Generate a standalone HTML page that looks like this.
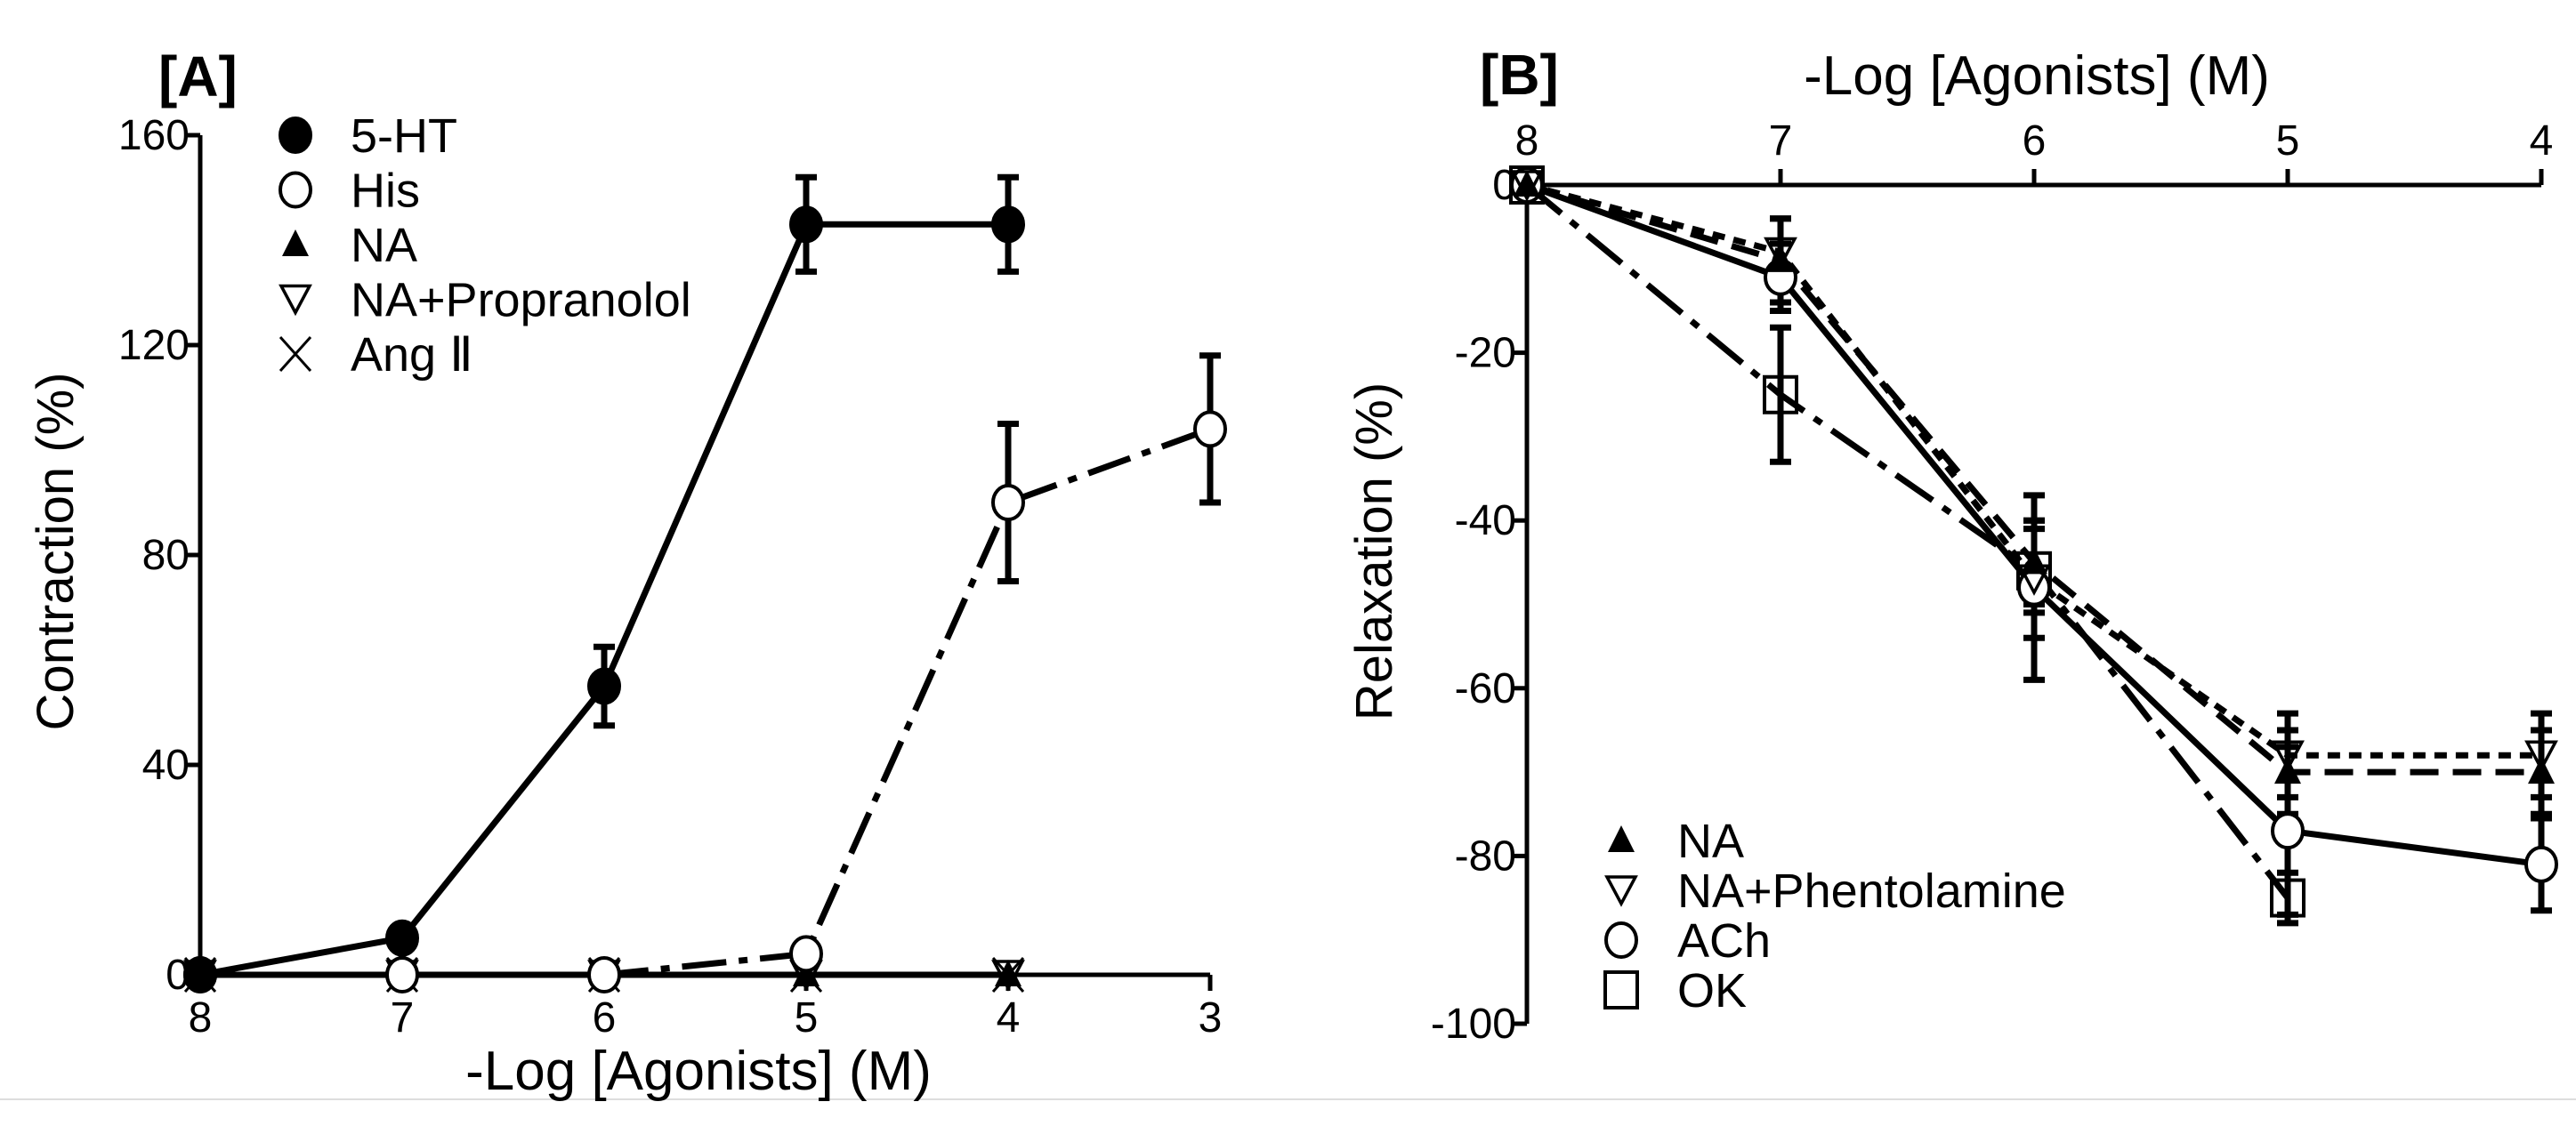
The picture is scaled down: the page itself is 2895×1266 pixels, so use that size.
<!DOCTYPE html>
<html><head><meta charset="utf-8">
<style>
html,body{margin:0;padding:0;background:#fff;}
svg{display:block;font-family:"Liberation Sans",sans-serif;}
</style></head>
<body>
<svg id="chart" width="2895" height="1266" viewBox="0 0 2895 1266" xmlns="http://www.w3.org/2000/svg">
<line x1="0" y1="1236" x2="2895" y2="1236" stroke="#ddd" stroke-width="2"/>
<g id="pa"></g>
<g id="pb"></g>
</svg>
<script>
const NS="http://www.w3.org/2000/svg";
// Panel A data
const aXTicks=[8,7,6,5,4,3];
const aYTicks=[0,40,80,120,160];
const aX=[8,7,6,5,4,3];
const aHT=[0,7,55,143,143];
const aHTErr=[0,0,7.5,9,9];
const aHis=[0,0,0,4,90,104];
const aHisErr=[0,0,0,0,15,14];
const aNA=[0,0,0,0,0];
const aNAProp=[0,0,0,0,0];
const aAng=[0,0,0,0,0];
// Panel B data
const bXTicks=[8,7,6,5,4];
const bYTicks=[0,-20,-40,-60,-80,-100];
const bX=[8,7,6,5,4];
const bNA=[0,-9,-45,-70,-70];
const bNAErr=[0,5,5,5,5];
const bNAPh=[0,-8,-47,-68,-68];
const bNAPhErr=[0,4,7,5,5];
const bACh=[0,-11,-48,-77,-81];
const bAChErr=[0,4,11,10,5.5];
const bOK=[0,-25,-46,-85,null];
const bOKErr=[0,8,5,3,0];

function el(tag,attrs,parent,txt){const e=document.createElementNS(NS,tag);for(const k in attrs)e.setAttribute(k,attrs[k]);if(txt!==undefined)e.textContent=txt;parent.appendChild(e);return e;}

const axA={x0:225,x1:1360,v0:8,v1:3,y0:1096,y1:152,w0:0,w1:160};
const axB={x0:1716,x1:2856,v0:8,v1:4,y0:208,y1:1151,w0:0,w1:-100};
const sx=(a,v)=>a.x0+(v-a.v0)/(a.v1-a.v0)*(a.x1-a.x0);
const sy=(a,v)=>a.y0+(v-a.w0)/(a.w1-a.w0)*(a.y1-a.y0);

function marker(g,type,x,y,name){
  const r=17;let m;
  if(type==='fc'||type==='oc'){m=el('ellipse',{cx:x,cy:y,rx:r,ry:r+2,fill:type==='fc'?'#000':'#fff',stroke:'#000','stroke-width':4},g);}
  else if(type==='ft'){m=el('polygon',{points:`${x},${y-17} ${x-15},${y+13} ${x+15},${y+13}`,fill:'#000'},g);}
  else if(type==='it'){m=el('polygon',{points:`${x-16},${y-15} ${x+16},${y-15} ${x},${y+15}`,fill:'none',stroke:'#000','stroke-width':3.5},g);}
  else if(type==='x'){m=el('path',{d:`M${x-17},${y-19}L${x+17},${y+19}M${x+17},${y-19}L${x-17},${y+19}`,stroke:'#000','stroke-width':3,fill:'none'},g);}
  else if(type==='sq'){m=el('rect',{x:x-18,y:y-20,width:36,height:40,fill:'none',stroke:'#000','stroke-width':4},g);}
  
  
  return m;
}
function errbar(g,a,xv,v,e,name){
  if(!e)return;const x=sx(a,xv);
  const p=el('path',{d:`M${x},${sy(a,v+e)}V${sy(a,v-e)}M${x-12},${sy(a,v+e)}H${x+12}M${x-12},${sy(a,v-e)}H${x+12}`,stroke:'#000','stroke-width':7,fill:'none'},g);
  
  
}
function line(g,a,xs,ys,dash,name,start){
  let d='';let first=true;
  for(let i=start||0;i<ys.length;i++){if(ys[i]==null)continue;d+=(first?'M':'L')+sx(a,xs[i])+','+sy(a,ys[i]);first=false;}
  const p=el('path',{d:d,stroke:'#000','stroke-width':7,fill:'none','stroke-dasharray':dash||'none'},g);
  
  
}

// ---- Panel A ----
const A=document.getElementById('pa');
let t=el('text',{x:178,y:108,'font-size':64,'font-weight':'bold'},A,'[A]');

let ax=el('path',{d:`M${axA.x0},${axA.y1}V${axA.y0}H${axA.x1}`,stroke:'#000','stroke-width':5,fill:'none'},A);

aYTicks.forEach(v=>{const y=sy(axA,v);
  el('line',{x1:axA.x0-16,x2:axA.x0,y1:y,y2:y,stroke:'#000','stroke-width':5},A);
  const tt=el('text',{x:axA.x0-12,y:y+16,'font-size':48,'text-anchor':'end'},A,String(v));
  });
aXTicks.forEach(v=>{const x=sx(axA,v);
  el('line',{x1:x,x2:x,y1:axA.y0,y2:axA.y0+18,stroke:'#000','stroke-width':5},A);
  const tt=el('text',{x:x,y:axA.y0+64,'font-size':48,'text-anchor':'middle'},A,String(v));
  });
t=el('text',{x:785,y:1225,'font-size':62,'text-anchor':'middle'},A,'-Log [Agonists] (M)');

t=el('text',{x:0,y:0,'font-size':58,'text-anchor':'middle',transform:'translate(82,620) rotate(-90)'},A,'Contraction (%)');


line(A,axA,aX,aNA,null,'na-line');
line(A,axA,aX,aHT,null,'5ht-line');
line(A,axA,aX,aHis,'50,14,10,14','his-line',2);
aX.forEach((xv,i)=>{if(i<aHT.length)errbar(A,axA,xv,aHT[i],aHTErr[i],'5ht-error-bar');if(i<aHis.length)errbar(A,axA,xv,aHis[i],aHisErr[i],'his-error-bar');});
aX.forEach((xv,i)=>{const x=sx(axA,xv);
  if(i<aNA.length)marker(A,'ft',x,sy(axA,aNA[i]),'na-point');
  if(i<aNAProp.length)marker(A,'it',x,sy(axA,aNAProp[i]),'na-propranolol-point');
  if(i<aAng.length)marker(A,'x',x,sy(axA,aAng[i]),'ang2-point');
  if(i<aHis.length)marker(A,'oc',x,sy(axA,aHis[i]),'his-point');
  if(i<aHT.length)marker(A,'fc',x,sy(axA,aHT[i]),'5ht-point');
});
[['fc','5-HT'],['oc','His'],['ft','NA'],['it','NA+Propranolol'],['x','Ang \u2161']].forEach((l,i)=>{
  const y=152+i*61.5;marker(A,l[0],332,y,'legend-marker');
  const tt=el('text',{x:394,y:y+19,'font-size':54},A,l[1]);
  });

// ---- Panel B ----
const B=document.getElementById('pb');
t=el('text',{x:1663,y:106,'font-size':64,'font-weight':'bold'},B,'[B]');

ax=el('path',{d:`M${axB.x0},${axB.y1}V${axB.y0}H${axB.x1}`,stroke:'#000','stroke-width':5,fill:'none'},B);

bYTicks.forEach(v=>{const y=sy(axB,v);
  el('line',{x1:axB.x0-16,x2:axB.x0,y1:y,y2:y,stroke:'#000','stroke-width':5},B);
  const tt=el('text',{x:axB.x0-12,y:y+16,'font-size':48,'text-anchor':'end'},B,String(v));
  });
bXTicks.forEach(v=>{const x=sx(axB,v);
  el('line',{x1:x,x2:x,y1:axB.y0-18,y2:axB.y0,stroke:'#000','stroke-width':5},B);
  const tt=el('text',{x:x,y:axB.y0-34,'font-size':48,'text-anchor':'middle'},B,String(v));
  });
t=el('text',{x:2289,y:106,'font-size':62,'text-anchor':'middle'},B,'-Log [Agonists] (M)');

t=el('text',{x:0,y:0,'font-size':58,'text-anchor':'middle',transform:'translate(1564,620) rotate(-90)'},B,'Relaxation (%)');


line(B,axB,bX,bACh,null,'ach-line');
line(B,axB,bX,bNA,'32,16','na-line');
line(B,axB,bX,bNAPh,'14,10','na-phentolamine-line');
line(B,axB,bX,bOK,'50,14,10,14','ok-line');
bX.forEach((xv,i)=>{
  errbar(B,axB,xv,bNA[i],bNAErr[i],'na-error-bar');
  errbar(B,axB,xv,bNAPh[i],bNAPhErr[i],'na-phentolamine-error-bar');
  errbar(B,axB,xv,bACh[i],bAChErr[i],'ach-error-bar');
  if(bOK[i]!=null)errbar(B,axB,xv,bOK[i],bOKErr[i],'ok-error-bar');
});
bX.forEach((xv,i)=>{const x=sx(axB,xv);
  if(bOK[i]!=null)marker(B,'sq',x,sy(axB,bOK[i]),'ok-point');
  marker(B,'oc',x,sy(axB,bACh[i]),'ach-point');
  marker(B,'ft',x,sy(axB,bNA[i]),'na-point');
  marker(B,'it',x,sy(axB,bNAPh[i]),'na-phentolamine-point');
});
[['ft','NA'],['it','NA+Phentolamine'],['oc','ACh'],['sq','OK']].forEach((l,i)=>{
  const y=945+i*56;marker(B,l[0],1822,y,'legend-marker');
  const tt=el('text',{x:1885,y:y+19,'font-size':54},B,l[1]);
  });
</script>
</body></html>
